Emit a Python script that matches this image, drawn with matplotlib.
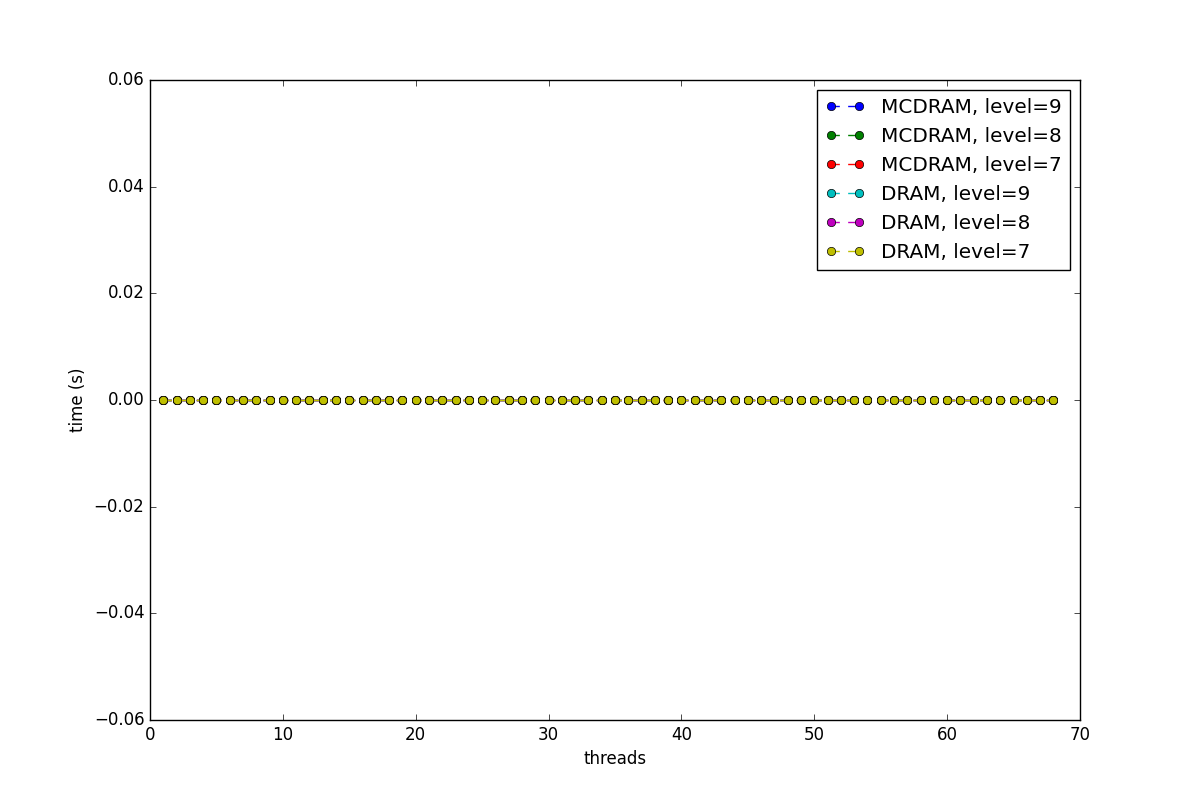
import matplotlib
matplotlib.use("Agg")
import matplotlib.pyplot as plt
import numpy as np

plt.style.use("classic")

threads = list(range(1, 69))
labels = ["MCDRAM, level=9", "MCDRAM, level=8", "MCDRAM, level=7",
          "DRAM, level=9", "DRAM, level=8", "DRAM, level=7"]
colors = ["b", "g", "r", "c", "m", "y"]
# all measured times read as zero on this scale
times = [[0.0] * len(threads) for _ in labels]

fig = plt.figure(figsize=(12, 8), dpi=100)
fig.patch.set_facecolor("white")
for t, lab, c in zip(times, labels, colors):
    plt.plot(threads, t, "o--", color=c, label=lab)

plt.xlim(0, 70)
plt.ylim(-0.06, 0.06)
plt.xlabel("threads")
plt.ylabel("time (s)")
plt.legend(loc="upper right")

plt.savefig("out.png", dpi=100, facecolor="white")
